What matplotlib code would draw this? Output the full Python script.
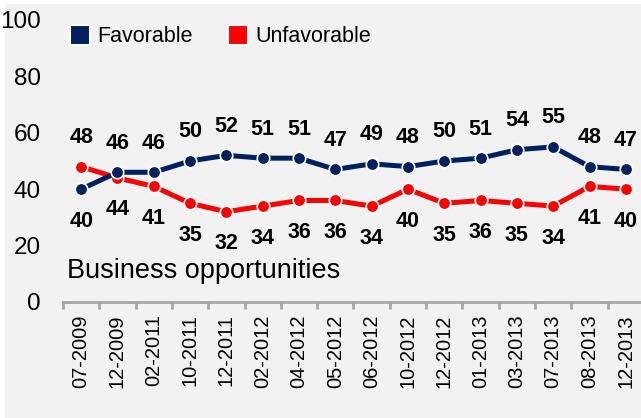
import matplotlib
matplotlib.use("Agg")
import matplotlib.pyplot as plt
from matplotlib.lines import Line2D
from matplotlib.patches import Rectangle
import numpy as np

plt.rcParams["font.family"] = ["Liberation Sans", "DejaVu Sans"]

# ----------------------------
# data
# ----------------------------
periods = ["07-2009", "12-2009", "02-2011", "10-2011", "12-2011", "02-2012",
           "04-2012", "05-2012", "06-2012", "10-2012", "12-2012", "01-2013",
           "03-2013", "07-2013", "08-2013", "12-2013"]
favorable = [40, 46, 46, 50, 52, 51, 51, 47, 49, 48, 50, 51, 54, 55, 48, 47]
unfavorable = [48, 44, 41, 35, 32, 34, 36, 36, 34, 40, 35, 36, 35, 34, 41, 40]
y_ticks = [0, 20, 40, 60, 80, 100]

NAVY = "#002060"
RED = "#ff0000"
BG = "#f2f2f2"

fig = plt.figure(figsize=(6.41, 4.18), dpi=100, facecolor="white")
fig.patches.append(Rectangle((5 / 641, 0), 1, (418 - 4) / 418,
                             transform=fig.transFigure, facecolor=BG,
                             edgecolor="none", zorder=-10))

ax = fig.add_axes([63 / 641, (418 - 302) / 418, 581 / 641, 282 / 418])
ax.set_facecolor("none")

x = np.arange(len(periods))
line_kw = dict(linewidth=3.6, marker="o", markersize=9,
               markeredgecolor="white", markeredgewidth=1.2, clip_on=False)
ax.plot(x, unfavorable, color=RED, zorder=3, **line_kw)
ax.plot(x, favorable, color=NAVY, zorder=4, **line_kw)

# value labels: higher series above, lower below
for i, (f, u) in enumerate(zip(favorable, unfavorable)):
    f_off = 21 if f >= u else -23
    u_off = 21 if u > f else -23
    ax.annotate(str(f), (i, f), textcoords="offset points", xytext=(0, f_off),
                ha="center", va="center", fontsize=15.5, fontweight="bold")
    ax.annotate(str(u), (i, u), textcoords="offset points", xytext=(0, u_off),
                ha="center", va="center", fontsize=15.5, fontweight="bold")

ax.text(-0.4, 11, "Business opportunities", fontsize=19.5, ha="left", va="center")

ax.set_xlim(-0.5, len(periods) - 0.5)
ax.set_ylim(0, 100)
ax.set_yticks(y_ticks)
ax.set_yticklabels([str(v) for v in y_ticks], fontsize=17.5)
ax.tick_params(axis="y", length=0, pad=16)

ax.set_xticks(x)
ax.set_xticklabels(periods, rotation=90, fontsize=14.5)
ax.set_xticks(np.arange(len(periods) + 1) - 0.5, minor=True)
ax.tick_params(axis="x", which="major", length=0, pad=9)
ax.tick_params(axis="x", which="minor", length=5, width=2, color="#a6a6a6")

for side in ["left", "right", "top"]:
    ax.spines[side].set_visible(False)
ax.spines["bottom"].set_color("#a6a6a6")
ax.spines["bottom"].set_linewidth(2)

handles = [
    Line2D([], [], linestyle="none", marker="s", markersize=15,
           markerfacecolor=NAVY, markeredgecolor="white", markeredgewidth=1.5),
    Line2D([], [], linestyle="none", marker="s", markersize=15,
           markerfacecolor=RED, markeredgecolor="white", markeredgewidth=1.5),
]
ax.legend(handles, ["Favorable", "Unfavorable"], loc="upper left",
          bbox_to_anchor=(0.0, 1.0), ncol=2, frameon=False, fontsize=15.5,
          handlelength=1.0, handletextpad=0.3, columnspacing=1.6,
          borderaxespad=0.0, borderpad=0.3)

fig.savefig("out.png", dpi=100, facecolor=fig.get_facecolor())
